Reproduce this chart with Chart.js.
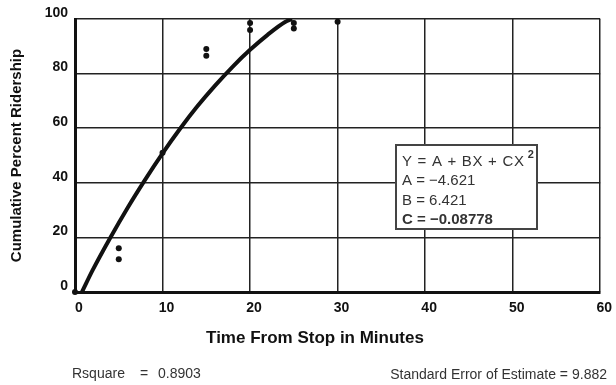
<!DOCTYPE html>
<html>
<head>
<meta charset="utf-8">
<style>
  html, body { margin: 0; padding: 0; background: #fff; }
  #wrap { position: relative; width: 616px; height: 385px; }
</style>
<script src="https://cdn.jsdelivr.net/npm/chart.js@4/dist/chart.umd.min.js"></script>
</head>
<body>
<div id="wrap"><canvas id="c" width="616" height="385"></canvas></div>
<script>
// ---- data ----
const obsX = [0, 5, 5, 10, 15, 15, 20, 20, 25, 25, 30];
const obsY = [0, 16, 12, 51, 89, 86.5, 98.5, 96, 98.5, 96.5, 99];
const curveX = [0.8, 2, 4, 6, 8, 10, 12, 14, 16, 18, 20, 22, 24, 24.8];
const curveY = [0, 7.9, 19.7, 30.8, 41.1, 50.8, 59.8, 68.1, 75.6, 82.5, 88.7, 94.2, 98.9, 100];
const xTicks = [0, 10, 20, 30, 40, 50, 60];
const yTicks = [0, 20, 40, 60, 80, 100];
const xTitle = 'Time From Stop in Minutes';
const yTitle = 'Cumulative Percent Ridership';
const boxLines = ['Y = A + BX + CX', 'A = \u22124.621', 'B = 6.421', 'C = \u22120.08778'];
const statLeft = ['Rsquare', '=', '0.8903'];
const statRight = ['Standard Error of Estimate =', '9.882'];

const FONT = '"Liberation Sans", Arial, Helvetica, sans-serif';

const overlay = {
  id: 'overlay',
  afterDraw(chart) {
    const ctx = chart.ctx;
    ctx.save();
    // x title
    ctx.fillStyle = '#111';
    ctx.font = 'bold 17px ' + FONT;
    ctx.textAlign = 'center';
    ctx.textBaseline = 'middle';
    ctx.fillText(xTitle, 315, 338);

    // equation box
    const bx = 396, by = 145, bw = 141, bh = 84;
    ctx.fillStyle = '#fff';
    ctx.fillRect(bx, by, bw, bh);
    ctx.strokeStyle = '#444';
    ctx.lineWidth = 2;
    ctx.strokeRect(bx, by, bw, bh);
    ctx.textAlign = 'left';
    ctx.fillStyle = '#333';
    const lineY = [162, 181, 201, 220];
    let firstW = 0;
    boxLines.forEach((t, i) => {
      ctx.font = (i === 3 ? 'bold ' : '') + '15px ' + FONT;
      if (i === 0) {
        ctx.letterSpacing = '0.7px';
        firstW = ctx.measureText(t).width;
      }
      ctx.fillText(t, 402, lineY[i]);
      ctx.letterSpacing = '0px';
    });
    ctx.font = 'bold 11px ' + FONT;
    ctx.fillText('2', 402 + firstW + 3, 155);

    // bottom statistics
    ctx.fillStyle = '#333';
    ctx.font = '14px ' + FONT;
    ctx.fillText(statLeft[0], 72, 374);
    ctx.fillText(statLeft[1], 140, 374);
    ctx.fillText(statLeft[2], 158, 374);
    ctx.textAlign = 'right';
    ctx.fillText(statRight[1], 607, 375);
    ctx.fillText(statRight[0], 568, 375);
    ctx.restore();
  }
};

new Chart(document.getElementById('c'), {
  type: 'scatter',
  data: {
    datasets: [
      {
        data: curveX.map((x, i) => ({ x, y: curveY[i] })),
        showLine: true,
        borderColor: '#111',
        borderWidth: 4,
        pointRadius: 0,
        cubicInterpolationMode: 'monotone',
        order: 2
      },
      {
        data: obsX.map((x, i) => ({ x, y: obsY[i] })),
        showLine: false,
        pointRadius: 3,
        backgroundColor: '#111',
        borderWidth: 0,
        clip: false,
        order: 1
      }
    ]
  },
  options: {
    responsive: false,
    animation: false,
    layout: { padding: { left: 0, right: 11, top: 19, bottom: 0 } },
    plugins: { legend: { display: false }, tooltip: { enabled: false } },
    scales: {
      x: {
        type: 'linear', min: 0, max: 60,
        afterBuildTicks(s) { s.ticks = xTicks.map(v => ({ value: v })); },
        ticks: { font: { family: FONT, size: 14, weight: 'bold' }, color: '#111', padding: 8, labelOffset: 4 },
        grid: { color: '#222', lineWidth: 1.5, drawTicks: false },
        border: { color: '#111', width: 3 },
        afterFit(s) { s.height = 93; }
      },
      y: {
        type: 'linear', min: 0, max: 100,
        afterBuildTicks(s) { s.ticks = yTicks.map(v => ({ value: v })); },
        ticks: { font: { family: FONT, size: 14, weight: 'bold' }, color: '#111', padding: 7, labelOffset: -6 },
        grid: { color: '#222', lineWidth: 1.5, drawTicks: false },
        border: { color: '#111', width: 3 },
        title: { display: true, text: yTitle, color: '#111', font: { family: FONT, size: 15, weight: 'bold' }, padding: { top: 8, bottom: 0 } },
        afterFit(s) { s.width = 75; }
      }
    }
  },
  plugins: [overlay]
});
</script>
</body>
</html>
